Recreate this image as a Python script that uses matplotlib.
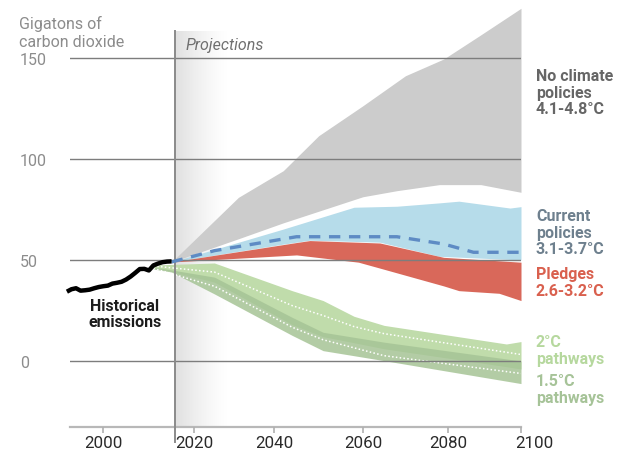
import numpy as np
import matplotlib
matplotlib.use("Agg")
import matplotlib.pyplot as plt
from matplotlib.transforms import ScaledTranslation

plt.rcParams['font.family'] = ['Roboto', 'DejaVu Sans']

# ---------------- data ----------------
hist_years = [1992, 1993, 1994, 1995, 1996, 1997, 1998, 1999, 2000, 2001, 2002, 2003,
              2004, 2005, 2006, 2007, 2008, 2009, 2010, 2011, 2012, 2013, 2014, 2015]
hist_vals = [34.3, 35.5, 36.0, 34.8, 35.0, 35.3, 36.0, 36.6, 37.0, 37.3, 38.3, 38.7,
             39.2, 40.3, 41.8, 43.6, 45.5, 45.6, 44.8, 47.3, 48.2, 48.9, 49.2, 49.3]

# No climate policies band
nocp_top_years = [2015, 2031, 2042, 2050, 2070, 2079, 2100]
nocp_top_vals = [49, 81.0, 94.2, 111.5, 141.2, 149.5, 174.6]
nocp_bot_years = [2015, 2060, 2068, 2078, 2089, 2100]
nocp_bot_vals = [49, 81.3, 84.3, 87.3, 87.3, 83.5]

# Current policies band + median
cur_top_years = [2015, 2042, 2058, 2068, 2083, 2097, 2100]
cur_top_vals = [49, 65.3, 76.1, 76.6, 79.1, 75.7, 76.4]
cur_bot_years = [2015, 2048, 2064, 2078, 2100]
cur_bot_vals = [49, 59.8, 58.8, 51.8, 50.0]
cur_med_years = [2015, 2025, 2045, 2068, 2079, 2087, 2100]
cur_med_vals = [49, 54.6, 61.5, 61.5, 57.9, 53.8, 53.8]

# Pledges band
pl_top_years = [2015, 2048, 2064, 2079, 2100]
pl_top_vals = [49, 59.6, 58.4, 51.3, 48.9]
pl_bot_years = [2015, 2045, 2059, 2083, 2094, 2100]
pl_bot_vals = [49, 52.5, 48.9, 34.8, 33.5, 29.9]

# 2 degree pathways
p2_top_years = [2011, 2025, 2044, 2051, 2058, 2065, 2096, 2100]
p2_top_vals = [47.5, 48.5, 34.8, 29.9, 22.1, 17.6, 8.4, 9.6]
p2_bot_years = [2011, 2025, 2044, 2051, 2065, 2100]
p2_bot_vals = [46.5, 39.0, 18.0, 12.0, 6.0, -4.0]
p2_med_years = [2011, 2025, 2044, 2051, 2058, 2065, 2100]
p2_med_vals = [47.0, 44.0, 27.4, 22.5, 17.0, 13.5, 3.2]

# 1.5 degree pathways
p15_top_years = [2011, 2025, 2044, 2051, 2065, 2100]
p15_top_vals = [46.5, 41.5, 21.6, 14.2, 9.3, 0.0]
p15_bot_years = [2011, 2015, 2051, 2065, 2100]
p15_bot_vals = [45.5, 44.0, 5.1, 0.15, -11.2]
p15_med_years = [2011, 2025, 2044, 2051, 2065, 2100]
p15_med_vals = [45.8, 37.0, 16.7, 10.5, 2.6, -6.2]

y_ticks = [0, 50, 100, 150]
x_ticks = [2000, 2020, 2040, 2060, 2080, 2100]
x_tick_labels = ['2000', '2020', '2040', '2060', '2080', '2100']
projection_year = 2015.8

# ---------------- figure ----------------
W, H = 619, 456
fig = plt.figure(figsize=(W / 100, H / 100), dpi=100)
ax = fig.add_axes([70 / W, (H - 428) / H, 451 / W, 428 / H])

# the original chart spaces its year ticks unevenly; reproduce with a piecewise-linear scale
knot_years = np.array([1980, 2000, 2020, 2040, 2060, 2080, 2100, 2120], dtype=float)
knot_pos = np.array([12.3, 103.3, 194.3, 274.3, 362.7, 447.7, 520.7, 593.7])


def fwd(x):
    return np.interp(x, knot_years, knot_pos)


def inv(p):
    return np.interp(p, knot_pos, knot_years)


ax.set_xscale('function', functions=(fwd, inv))


def band(xt, yt, xb, yb, **kw):
    xs = np.union1d(xt, xb)
    ax.fill_between(xs, np.interp(xs, xt, yt), np.interp(xs, xb, yb), lw=0, **kw)


# projection gradient (axes coordinates)
grad = np.zeros((2, 256, 4))
grad[..., :3] = 0.88
grad[..., 3] = np.linspace(1, 0, 256) ** 1.3
x0a = (175 - 70) / 451
x1a = (228 - 70) / 451
ytop_a = (428 - 32) / 428
ax.imshow(grad, extent=[x0a, x1a, 0, ytop_a], transform=ax.transAxes,
          aspect='auto', zorder=0, interpolation='bilinear')

band(nocp_top_years, nocp_top_vals, nocp_bot_years, nocp_bot_vals, color='#cccccc', zorder=1)
band(cur_top_years, cur_top_vals, cur_bot_years, cur_bot_vals, color='#b6dcea', zorder=1.1)
band(pl_top_years, pl_top_vals, pl_bot_years, pl_bot_vals, color='#d9685a', zorder=1.2)
band(p2_top_years, p2_top_vals, p2_bot_years, p2_bot_vals, color='#c0dcab', zorder=1.3)
band(p15_top_years, p15_top_vals, p15_bot_years, p15_bot_vals, color='#a6c496',
     alpha=0.85, zorder=1.4)

ax.plot(p2_med_years, p2_med_vals, color='white', lw=1.1, ls=(0, (1, 1.5)), zorder=1.6)
ax.plot(p15_med_years, p15_med_vals, color='white', lw=1.1, ls=(0, (1, 1.5)), zorder=1.6)

# grid
ax.set_yticks(y_ticks)
ax.set_yticklabels([str(v) for v in y_ticks])
ax.grid(axis='y', color='#7d7d7d', lw=1.0)
ax.grid(axis='x', visible=False)
ax.set_axisbelow(False)

# projection vertical line
top_val = (362 - 32) / 2.02
ax.plot([projection_year, projection_year], [-40, top_val], color='#8a8a8a', lw=1.4,
        zorder=3, clip_on=False)

ax.plot(cur_med_years, cur_med_vals, color='#5e8bc4', lw=2.4, ls=(0, (3.4, 2.6)), zorder=3.5)
ax.plot(hist_years, hist_vals, color='black', lw=3.2, zorder=4, clip_on=False,
        solid_capstyle='butt', solid_joinstyle='round')

ax.set_xlim(inv(70), 2100)
ax.set_ylim(-32.7, 179.2)

for s in ['top', 'right', 'left']:
    ax.spines[s].set_visible(False)
ax.spines['bottom'].set_color('#b8b8b8')
ax.spines['bottom'].set_linewidth(1.6)

ax.set_xticks(x_ticks)
ax.set_xticklabels(x_tick_labels)
ax.tick_params(axis='x', length=4, width=1.2, color='#b0b0b0', pad=1.5,
               labelsize=12.2, labelcolor='#2a2a2a')
ax.tick_params(axis='y', length=0, pad=36, labelsize=11.5, labelcolor='#8c8c8c')
for lbl in ax.get_yticklabels():
    lbl.set_horizontalalignment('left')
ax.xaxis.set_minor_locator(matplotlib.ticker.NullLocator())

# texts
fig.text(19 / W, 1 - 16 / H, 'Gigatons of\ncarbon dioxide', ha='left', va='top',
         fontsize=11.5, color='#8c8c8c', linespacing=1.22)
fig.text(186 / W, 1 - 50 / H, 'Projections', ha='left', va='baseline',
         fontsize=11.5, style='italic', color='#707070')

fig.text(125 / W, 1 - 299 / H, 'Historical\nemissions', ha='center', va='top',
         fontsize=11.5, fontweight='bold', color='#1c1c1c', linespacing=1.1)

lab_x = 536 / W
common = dict(ha='left', va='top', fontsize=11.5, fontweight='bold', linespacing=1.13)
fig.text(lab_x, 1 - 69 / H, 'No climate\npolicies\n4.1-4.8°C', color='#666666', **common)
fig.text(lab_x, 1 - 209 / H, 'Current\npolicies\n3.1-3.7°C', color='#6e808e', **common)
fig.text(lab_x, 1 - 267 / H, 'Pledges\n2.6-3.2°C', color='#d9604e', **common)
fig.text(lab_x, 1 - 335 / H, '2°C\npathways', color='#b6d89e', **common)
fig.text(lab_x, 1 - 374 / H, '1.5°C\npathways', color='#a6c398', **common)

# shift last x label to the right like in the original
last = ax.get_xticklabels()[-1]
last.set_transform(last.get_transform() + ScaledTranslation(13 / 100, 0, fig.dpi_scale_trans))

fig.savefig('out.png', dpi=100)
